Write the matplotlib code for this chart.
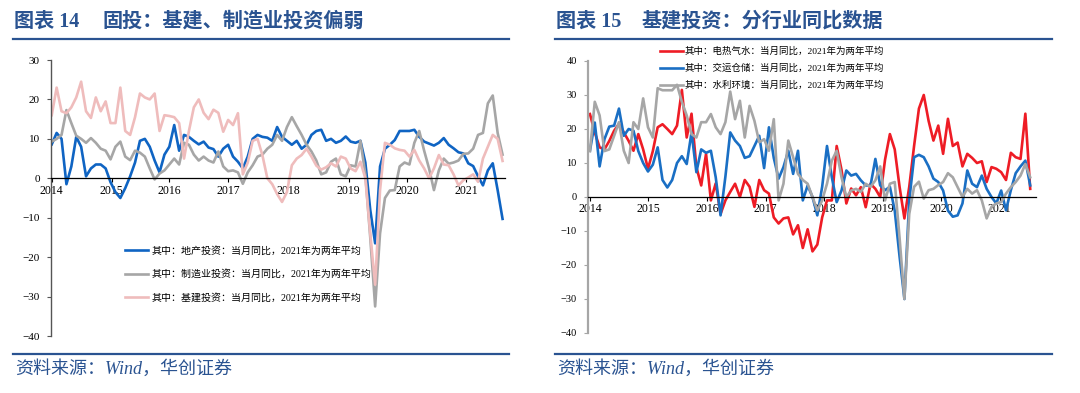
import matplotlib
matplotlib.use("Agg")
import matplotlib.pyplot as plt
import numpy as np

plt.rcParams['font.family'] = ['Liberation Serif', 'Noto Sans CJK SC', 'DejaVu Sans']

############################ DATA ############################
# left chart: monthly, index 0 = 2014 start
left_years = ["2014", "2015", "2016", "2017", "2018", "2019", "2020", "2021"]
left_year_pos = [0, 12.2, 24, 36, 48.2, 60.6, 72.5, 84.6]

fai_property = [8.6, 11.5, 10, -1.5, 3, 10.5, 8, 0.5, 2.5, 3.5, 3.5, 2.5, -1, -3.5, -5, -2.5,
                0.5, 4, 9.5, 10, 8, 4.5, 1.5, 6, 8, 13.5, 7, 11, 10.5, 9.5, 8.6, 9.3,
                7.8, 7.4, 5.5, 7.5, 8.5, 5.5, 4.2, 2.5, 5.5, 10, 11, 10.5, 10.3, 9.5, 13, 10.5,
                9.5, 8.5, 9.5, 7.5, 8.5, 11, 12, 12.3, 9.5, 10, 9, 9.5, 10.6, 9.3, 9, 9.5,
                4, -8, -16.5, 3, 7.5, 8.5, 9.7, 12, 12, 12, 12.3, 10.5, 9.3, 8.8, 8.3, 9,
                10.2, 8.5, 7.6, 6.6, 6.3, 3.8, 3.1, 0.5, -1.8, 2, 3.8, -3, -10.3]
fai_manuf = [9.3, 10, 11, 17.3, 14, 10.8, 10, 9, 10.2, 9, 7.5, 7, 4.8, 8, 9.3, 5.5,
             4.6, 7, 6.5, 5.5, 2.5, -0.3, 1.2, 2, 3.5, 5, 3.5, 9, 8.5, 6, 4.5, 5.5,
             4.5, 4, 6.8, 3, 1.8, 2, 1.5, -1.4, 1.5, 3.3, 5.5, 6, 7.5, 8.5, 11, 9.5,
             13, 15.5, 13.2, 11, 8.5, 6.8, 4.5, 1, 1.5, 4.2, 5, 1, 0.5, 3.3, 3, 9.5,
             1, -15, -32.5, -14, -5, -3.1, -3, 3, 4, 3.5, 9, 12, 7, 2.5, -3, 2,
             5, 3.7, 4, 4.5, 6.2, 6.3, 7.5, 11, 11.5, 19, 21, 11.5, 6]
fai_infra = [16, 23, 17, 16.5, 18, 20.5, 24.5, 17, 15.3, 20.5, 17, 19.5, 14, 14, 23, 12,
             11, 15.5, 21.5, 20.5, 20, 21.5, 12, 16, 15.8, 15.5, 14, 5, 12, 18, 20, 16.6,
             15, 17.4, 16.6, 11.8, 14.8, 13.5, 16.5, 1, 4, 9.5, 10, 5.8, 0, -1.5, -4, -6,
             -3.5, 3.3, 5, 5.9, 7.5, 5.5, 3.2, 2.2, 2.8, 3.8, 3, 5.5, 5, 2.5, 1.8, 4.2,
             0, -14, -27, -3, 9, 8.5, 7.6, 7.2, 7, 5.5, 7.2, 4.5, 2.5, 0, 2.5, 5.9,
             3.5, 3.3, 1, -1.8, -0.5, 0.2, 1, -0.9, 5, 8, 11, 10, 4.4]

# right chart
right_years = ["2014", "2015", "2016", "2017", "2018", "2019", "2020", "2021"]
right_year_pos = [0, 12.1, 24.2, 36.3, 48.4, 60.5, 72.6, 84.7]

infra_power = [24.4, 19, 14.6, 14, 16.5, 19.5, 21.5, 19, 16.5, 13.6, 18.5, 14, 8.3, 13.5, 20.5, 21.4,
               20, 18.5, 21, 31.5, 17.5, 24.5, 8.8, 3.4, 12.7, -1, 4, -5, -1, 1.5, 3.9, 0,
               5, 3, -2.9, 5, 2, 1, -6, -7.8, -6.3, -6, -11, -8.3, -15, -9.5, -16, -14,
               -6, -1, -1, 15, 8, -1.9, 2.5, 0.5, 2.9, -3, 3.9, 2.4, 0, 11, 18.5, 14,
               3, -6.3, 3, 15, 26, 30, 22.4, 16.6, 21, 12.7, 23, 15, 16, 9, 12.7, 11.5,
               10, 10.5, 4.4, 8.8, 8.3, 7.3, 5, 13, 11.7, 11.2, 24.5, 2.4]
infra_transport = [13.6, 21.9, 9, 17, 20.7, 21, 26, 18, 20, 19.5, 13.5, 10, 7.5, 9.5, 14.6, 5,
                   2.8, 5, 10, 12, 9.7, 19, 7.3, 14, 13, 13.6, 5.8, -5.4, 6, 19, 16.6, 15,
                   11.5, 12, 15, 18, 8.5, 20.5, 11.5, 5.4, 8.8, 13.6, 6.8, 13.6, -1, 3.4, 0, -5.4,
                   3, 15, 5.8, -1.5, 1.9, 7.8, 6.3, 6.8, 4.9, 3.4, 3.4, 11.2, 3.4, 2, 3, -4,
                   -17.5, -30, -1, 11.7, 12.4, 11.7, 9, 5.4, 4.4, 1.9, -4, -5.8, -5.4, -1.9, 7.8, 3.9,
                   2.9, 6.3, 2.4, 0, -1.9, 1.9, -3.9, 2, 7, 9, 10.7, 3.4]
infra_water = [13.5, 28, 24, 13.5, 14, 18, 22, 13.6, 10, 22, 20, 29, 20.5, 17.5, 32, 31.4,
               31.4, 31.4, 33, 28, 24, 18.5, 17.5, 22, 22, 24.4, 20.5, 18.5, 22, 31, 22.9, 28.3,
               17.5, 26.8, 22.4, 16.1, 17, 13.6, 22.9, -1, 3.9, 16.6, 11.7, 6.8, 5, 3.9, 0, -3.9,
               -1, 3.9, 10.7, 13.6, 5.8, 0, 1.9, 2.4, 1.5, 3.9, 3, 4.9, 9, -1, 3.9, 4.4,
               -12, -30, -5, 3, 4.5, -0.5, 2, 2.4, 3.5, 4.4, 7, 5.8, 2.9, 0, 2.4, 1,
               2, -1, -6.3, -2.9, -1.9, -1.5, 1, 2.9, 4.4, 6.3, 9.7, 5.8]

left_labels = ["其中：地产投资：当月同比，2021年为两年平均",
               "其中：制造业投资：当月同比，2021年为两年平均",
               "其中：基建投资：当月同比，2021年为两年平均"]
right_labels = ["其中：电热气水：当月同比，2021年为两年平均",
                "其中：交运仓储：当月同比，2021年为两年平均",
                "其中：水利环境：当月同比，2021年为两年平均"]

############################ PLOT ############################
W, H = 1080, 393
fig = plt.figure(figsize=(W / 100, H / 100), dpi=100)
navy = "#2a5391"


def fx(px):
    return px / W


def fy(py):
    return 1 - py / H


# headers, rules and source lines
for x0, x1, num, title in [(13, 509, "图表 14", "固投：基建、制造业投资偏弱"),
                           (555, 1052, "图表 15", "基建投资：分行业同比数据")]:
    fig.text(fx(x0 + 1), fy(22), num, color=navy, fontsize=14.5, fontweight="bold", va="center")
    fig.text(fx(x0 + 90 if x0 < 500 else x0 + 87), fy(22), title, color=navy, fontsize=14.5,
             fontweight="bold", va="center")
    fig.add_artist(plt.Line2D([fx(x0), fx(x1)], [fy(39), fy(39)], color=navy, lw=1.6))
    fig.add_artist(plt.Line2D([fx(x0), fx(x1)], [fy(353.5), fy(353.5)], color=navy, lw=1.6))
    fig.text(fx(x0 + 2), fy(369), "资料来源：Wind，华创证券", color=navy, fontsize=13,
             style="italic", va="center")


def style_axis(ax, years, year_pos, spine_color, yticks):
    ax.spines["top"].set_visible(False)
    ax.spines["right"].set_visible(False)
    ax.spines["bottom"].set_position(("data", 0))
    ax.spines["bottom"].set_color("black")
    ax.spines["bottom"].set_linewidth(0.9)
    ax.spines["left"].set_color(spine_color)
    ax.spines["left"].set_linewidth(1.0)
    ax.set_xticks(year_pos)
    ax.set_xticklabels(years, fontsize=8.5)
    ax.tick_params(axis="x", length=3, width=0.8, pad=1.5, color="black")
    ax.tick_params(axis="y", length=3, width=0.8, pad=5, labelsize=8, color=spine_color)
    ax.set_yticks(yticks)
    ax.patch.set_alpha(0)


# ---------------- left chart ----------------
axl = fig.add_axes([fx(51), fy(336), fx(505 - 51), fy(60) - fy(336)])
xl = np.arange(len(fai_property))
axl.plot(xl, fai_property, color="#0f64c3", lw=1.9, label=left_labels[0])
axl.plot(xl, fai_manuf, color="#a6a6a6", lw=1.9, label=left_labels[1])
axl.plot(xl, fai_infra, color="#efbcbc", lw=1.9, label=left_labels[2])
style_axis(axl, left_years, left_year_pos, "#555555", range(-40, 31, 10))
axl.set_xlim(-0.15, 92.5)
axl.set_ylim(-40, 30)
legl = axl.legend(loc="upper left", bbox_to_anchor=(fx(125), fy(246)),
                  bbox_transform=fig.transFigure, frameon=False, fontsize=7.2,
                  handlelength=2.3, handletextpad=0.35, labelspacing=1.35,
                  borderpad=0, borderaxespad=0)

# ---------------- right chart ----------------
axr = fig.add_axes([fx(588), fy(333), fx(1036 - 588), fy(61) - fy(333)])
xr = np.arange(len(infra_power))
axr.plot(xr, infra_power, color="#ee1c25", lw=1.9, label=right_labels[0])
axr.plot(xr, infra_transport, color="#1a6fc4", lw=1.9, label=right_labels[1])
axr.plot(xr, infra_water, color="#a6a6a6", lw=1.9, label=right_labels[2])
style_axis(axr, right_years, right_year_pos, "#a6a6a6", range(-40, 41, 10))
axr.set_xlim(-0.4, 92.2)
axr.set_ylim(-40, 40)
axr.tick_params(axis="y", labelsize=7.5)
axr.spines["left"].set_linewidth(1.6)
legr = axr.legend(loc="upper left", bbox_to_anchor=(fx(660), fy(47)),
                  bbox_transform=fig.transFigure, frameon=False, fontsize=6.8,
                  handlelength=2.4, handletextpad=0.2, labelspacing=0.8,
                  borderpad=0, borderaxespad=0)

fig.savefig("out.png", dpi=100)
